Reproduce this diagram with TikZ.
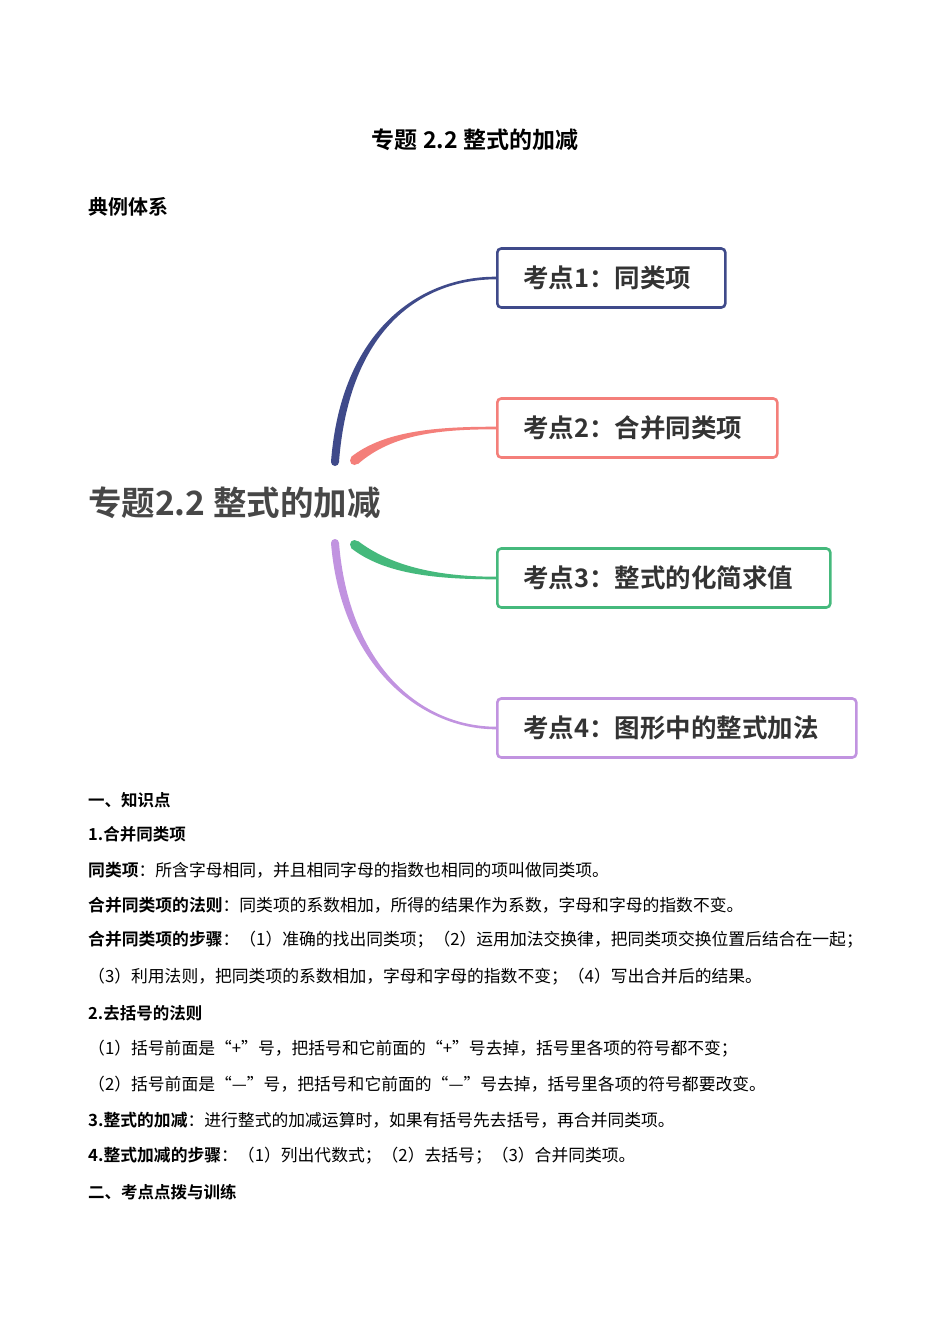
\documentclass[tikz,border=0pt]{standalone}
\usepackage{fontspec}
\setmainfont{Noto Sans CJK SC}[BoldFont={Noto Sans CJK SC Bold}]
\begin{document}
\begin{tikzpicture}[x=1pt,y=-1pt]
\definecolor{cA}{HTML}{3F4A8A}\definecolor{cB}{HTML}{F47F7A}
\definecolor{cC}{HTML}{45B97C}\definecolor{cD}{HTML}{C193E0}
\definecolor{tx}{HTML}{333333}
\tikzset{kbox/.style 2 args={draw=#1,line width=2.6pt,rounded corners=4pt,anchor=west,minimum height=59pt,inner xsep=26pt,text width=#2,align=left,text=tx,font=\bfseries\fontsize{25.5}{28}\selectfont},
 body/.style={anchor=west,inner sep=0pt,font=\fontsize{16.8}{20}\selectfont}}
\useasboundingbox (0,0) rectangle (950,1344);
\fill[white] (0,0) rectangle (950,1344);
\node[font=\bfseries\fontsize{23}{26}\selectfont] (title) at (475,140) {专题 2.2 整式的加减};
\node[body,font=\bfseries\fontsize{20}{24}\selectfont] (sys) at (88,207) {典例体系};
\node[anchor=west,inner sep=0pt,text=tx!90,font=\bfseries\fontsize{33.5}{36}\selectfont] (c) at (88,503) {专题2.2 整式的加减};
\node[kbox={cA}{176pt}] (k1) at (496,278) {考点1：同类项};
\node[kbox={cB}{228pt}] (k2) at (496,428) {考点2：合并同类项};
\node[kbox={cC}{281pt}] (k3) at (496,578) {考点3：整式的化简求值};
\node[kbox={cD}{307pt}] (k4) at (496,728) {考点4：图形中的整式加法};
% tapered branches
\fill[cA] (331,462) .. controls (341,330) and (420,276.5) .. (k1.west|-0,276.7) -- (k1.west|-0,279.3) .. controls (420,279.5) and (349,330) .. (339,462) -- cycle;
\fill[cA] (335,462) circle (4pt);
\fill[cB] (351,457) .. controls (385,430) and (440,426.7) .. (k2.west|-0,426.7) -- (k2.west|-0,429.3) .. controls (440,429.3) and (392,434) .. (358,464) -- cycle;
\fill[cB] (354.5,460.5) circle (4.5pt);
\fill[cC] (351,548) .. controls (385,575) and (440,579.3) .. (k3.west|-0,579.3) -- (k3.west|-0,576.7) .. controls (440,576.7) and (392,567) .. (358,541) -- cycle;
\fill[cC] (354.5,544.5) circle (4.5pt);
\fill[cD] (331,543) .. controls (341,665) and (420,729.3) .. (k4.west|-0,729.3) -- (k4.west|-0,726.7) .. controls (420,726.5) and (349,665) .. (339,543) -- cycle;
\fill[cD] (335,543) circle (4pt);
% text
\node[body,font=\bfseries\fontsize{16.5}{20}\selectfont] (t1) at (88,800) {一、知识点};
\node[body,font=\bfseries\fontsize{16.5}{20}\selectfont] (t2) at (88,834) {1.合并同类项};
\node[body] (t3) at (88,870) {\textbf{同类项}：所含字母相同，并且相同字母的指数也相同的项叫做同类项。};
\node[body] (t4) at (88,905) {\textbf{合并同类项的法则}：同类项的系数相加，所得的结果作为系数，字母和字母的指数不变。};
\node[body] (t5) at (88,940) {\textbf{合并同类项的步骤}：（1）准确的找出同类项；（2）运用加法交换律，把同类项交换位置后结合在一起；};
\node[body] (t6) at (88,977) {（3）利用法则，把同类项的系数相加，字母和字母的指数不变；（4）写出合并后的结果。};
\node[body,font=\bfseries\fontsize{16.5}{20}\selectfont] (t7) at (88,1013) {2.去括号的法则};
\node[body] (t8) at (88,1049) {（1）括号前面是“+”号，把括号和它前面的“+”号去掉，括号里各项的符号都不变；};
\node[body] (t9) at (88,1084) {（2）括号前面是“—”号，把括号和它前面的“—”号去掉，括号里各项的符号都要改变。};
\node[body] (t10) at (88,1120) {\textbf{3.整式的加减}：进行整式的加减运算时，如果有括号先去括号，再合并同类项。};
\node[body] (t11) at (88,1156) {\textbf{4.整式加减的步骤}：（1）列出代数式；（2）去括号；（3）合并同类项。};
\node[body,font=\bfseries\fontsize{16.5}{20}\selectfont] (t12) at (88,1192) {二、考点点拨与训练};
\end{tikzpicture}
\end{document}
